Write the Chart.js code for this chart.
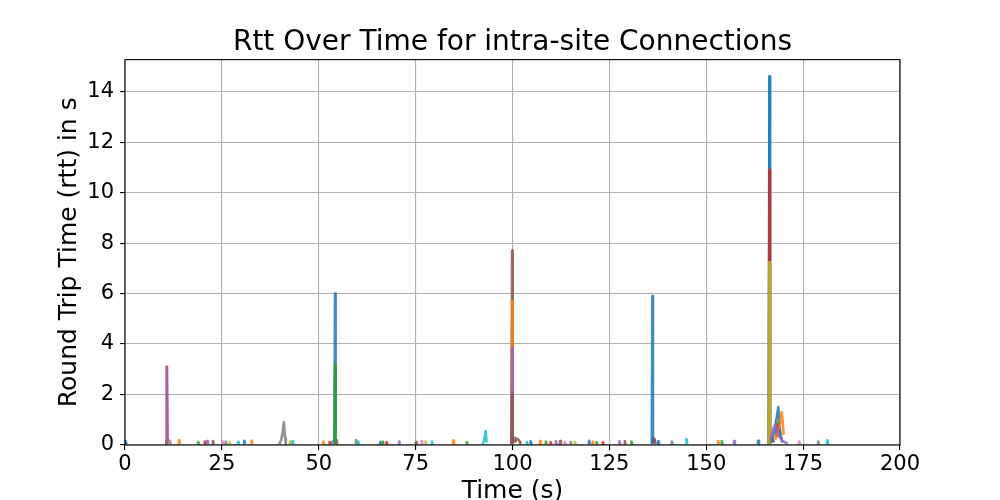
<!DOCTYPE html>
<html>
<head>
<meta charset="utf-8">
<script src="https://cdn.jsdelivr.net/npm/chart.js@4/dist/chart.umd.min.js"></script>
<style>
  html, body { margin: 0; padding: 0; background: #fff; }
  #wrap { width: 1000px; height: 500px; }
</style>
</head>
<body>
<div id="wrap"><canvas id="rtt" width="1000" height="500"></canvas></div>
<script>
// tick labels
const xTicks = [0, 25, 50, 75, 100, 125, 150, 175, 200];
const yTicks = [0, 2, 4, 6, 8, 10, 12, 14];

// matplotlib tab10
const TAB = {
  blue: '#1f77b4', orange: '#ff7f0e', green: '#2ca02c', red: '#d62728', purple: '#9467bd',
  brown: '#8c564b', pink: '#e377c2', gray: '#7f7f7f', olive: '#bcbd22', cyan: '#17becf',
};

// small bursts near zero, [time s, rtt s], null = new connection
const blueSmall = [[0.1,0.02],[0.2,0.15],[0.4,0.04],null,[30.7,0.02],[30.8,0.17],[31.0,0.04],null,[65.8,0.02],[65.9,0.12],[66.1,0.03],null,
  [104.6,0.02],[104.7,0.15],[104.9,0.04],null,[119.7,0.02],[119.8,0.17],[120.0,0.04],null,[137.5,0.02],[137.6,0.15],[137.8,0.04],null,[163.3,0.02],[163.4,0.17],[163.6,0.04]];
const orangeSmall = [[13.9,0.02],[14.0,0.2],[14.2,0.05],null,[32.6,0.02],[32.7,0.18],[32.9,0.04],null,[51.1,0.02],[51.2,0.14],[51.4,0.04],null,
  [84.6,0.02],[84.7,0.18],[84.9,0.04],null,[107.0,0.02],[107.1,0.16],[107.3,0.04],null,[120.6,0.02],[120.7,0.14],[120.9,0.04],null,[153.0,0.02],[153.1,0.16],[153.3,0.04]];
const greenSmall = [[18.8,0.02],[18.9,0.12],[19.1,0.03],null,[66.4,0.02],[66.5,0.14],[66.7,0.03],null,[88.1,0.02],[88.2,0.12],[88.4,0.03],null,
  [108.5,0.02],[108.6,0.14],[108.8,0.03],null,[121.6,0.02],[121.7,0.12],[121.9,0.03],null,[130.6,0.02],[130.7,0.14],[130.9,0.03],null,[153.9,0.02],[154.0,0.16],[154.2,0.03]];
const redSmall = [[20.5,0.02],[20.6,0.14],[20.8,0.03],null,[52.7,0.02],[52.8,0.12],[53.0,0.03],null,[67.4,0.02],[67.5,0.12],[67.7,0.03],null,
  [109.7,0.02],[109.8,0.12],[110.0,0.03],null,[123.2,0.02],[123.3,0.12],[123.5,0.03],null,[136.4,0.05],[136.7,0.22],[136.9,0.05]];
const purpleSmall = [[11.5,0.02],[11.6,0.16],[11.8,0.04],null,[21.1,0.02],[21.2,0.16],[21.4,0.04],null,[53.4,0.02],[53.5,0.14],[53.7,0.04],null,
  [70.7,0.02],[70.8,0.14],[71.0,0.04],null,[111.1,0.02],[111.2,0.16],[111.4,0.04],null,[127.5,0.02],[127.6,0.16],[127.8,0.04],null,[157.1,0.02],[157.2,0.16],[157.4,0.04]];
const brownSmall = [[10.6,0.02],[10.7,0.16],[10.9,0.04],null,[22.6,0.02],[22.7,0.16],[22.9,0.04],null,[54.5,0.02],[54.6,0.2],[54.8,0.05],null,
  [75.0,0.02],[75.1,0.12],[75.3,0.03],null,[112.2,0.02],[112.3,0.16],[112.5,0.04],null,[128.9,0.02],[129.0,0.16],[129.2,0.04],null,[136.1,0.05],[136.4,0.28],[136.7,0.1]];
const pinkSmall = [[25.1,0.02],[25.2,0.14],[25.4,0.03],null,[76.5,0.02],[76.6,0.16],[76.8,0.04],null,[113.4,0.02],[113.5,0.12],[113.7,0.03],null,[173.9,0.02],[174.0,0.14],[174.2,0.03]];
const graySmall = [[25.9,0.02],[26.0,0.14],[26.2,0.03],null,[39.8,0.02],[40.3,0.2],[40.7,0.5],[41.0,0.9],[41.3,0.3],[41.5,0.05],null,
  [59.5,0.02],[59.6,0.2],[59.8,0.05],null,[100.1,0.05],[100.5,0.3],[100.9,0.15],null,[114.9,0.02],[115.0,0.12],[115.2,0.03],null,
  [141.0,0.02],[141.1,0.14],[141.3,0.03],null,[178.8,0.02],[178.9,0.14],[179.1,0.03]];
const oliveSmall = [[11.1,0.02],[11.2,0.2],[11.4,0.05],null,[26.9,0.02],[27.0,0.12],[27.2,0.03],null,[42.5,0.02],[42.6,0.14],[42.8,0.03],null,
  [77.5,0.02],[77.6,0.14],[77.8,0.03],null,[101.8,0.02],[101.9,0.12],[102.1,0.03],null,[116.0,0.02],[116.1,0.12],[116.3,0.03]];
const cyanSmall = [[29.1,0.02],[29.2,0.12],[29.4,0.03],null,[43.2,0.02],[43.3,0.16],[43.5,0.04],null,[60.1,0.02],[60.2,0.14],[60.4,0.03],null,
  [79.1,0.02],[79.2,0.14],[79.4,0.03],null,[92.3,0.02],[92.7,0.2],[93.1,0.55],[93.3,0.1],null,[103.6,0.02],[103.7,0.12],[103.9,0.03],null,
  [144.8,0.02],[144.9,0.24],[145.1,0.05],null,[181.1,0.02],[181.2,0.18],[181.4,0.04]];

// post-100 s brown tail and the 167-170 s cluster
const brownTail = [[100.6,0.1],[101.1,0.25],[101.6,0.2],[102.2,0.05],null,[166.5,0.05],[167.0,0.3],[167.5,0.1]];
const blueCluster = [[166.8,0.1],[167.5,0.5],[168.3,1.2],[168.6,1.5],[169.0,0.6],[169.6,0.1]];
const greenCluster = [[168.2,0.4],[168.6,0.9],[169.0,0.3]];
const redCluster = [[168.0,0.3],[168.5,0.8],[168.8,0.5]];
const orangeCluster = [[167.8,0.2],[168.8,0.7],[169.5,1.3],[170.0,0.4]];
const purpleCluster = [[166.6,0.2],[167.2,0.6],[167.8,0.8],[168.1,0.5],[168.4,0.7],[168.7,0.4],[169.0,0.3],[169.8,0.15],[170.5,0.1],[171.0,0.05]];

// spikes
const spike11Red = [[10.65,0.05],[10.8,3.1],[10.95,0.1]];
const spike11Purple = [[10.65,0.05],[10.8,3.1],[10.95,0.1]];
const spike54Blue = [[54.05,0.05],[54.2,6.0],[54.35,0.1]];
const spike54Green = [[54.05,0.05],[54.2,3.2],[54.35,0.1]];
const spike100Brown = [[99.75,0.05],[99.9,7.7],[100.05,0.1]];
const spike100Orange = [[99.75,0.05],[99.9,5.7],[100.05,0.1]];
const spike100Purple = [[99.75,0.05],[99.9,3.85],[100.05,0.1]];
const spike100Brown2 = [[99.75,0.05],[99.9,2.0],[100.05,0.1]];
const spike136Blue = [[135.95,0.05],[136.1,5.9],[136.25,0.1]];
const spike166Cyan = [[166.15,0.05],[166.3,14.6],[166.45,0.1]];
const spike166Blue = [[166.15,0.05],[166.3,14.6],[166.45,0.1]];
const spike166Red = [[166.15,0.05],[166.3,10.9],[166.45,0.1]];
const spike166Olive = [[166.15,0.05],[166.3,7.25],[166.45,0.1]];

// listed in drawing order: later entries end up on top
const SERIES = [
  [blueSmall, 'blue'], [orangeSmall, 'orange'], [greenSmall, 'green'], [redSmall, 'red'],
  [purpleSmall, 'purple'], [brownSmall, 'brown'], [pinkSmall, 'pink'], [graySmall, 'gray'],
  [oliveSmall, 'olive'], [cyanSmall, 'cyan'],
  [spike11Red, 'red'], [spike11Purple, 'purple'],
  [spike54Blue, 'blue'], [spike54Green, 'green'],
  [spike100Brown, 'brown'], [spike100Orange, 'orange'], [spike100Purple, 'purple'], [spike100Brown2, 'brown'],
  [brownTail, 'brown'],
  [spike136Blue, 'blue'],
  [spike166Cyan, 'cyan'], [spike166Blue, 'blue'], [spike166Red, 'red'], [spike166Olive, 'olive'],
  [blueCluster, 'blue'], [greenCluster, 'green'], [redCluster, 'red'], [orangeCluster, 'orange'], [purpleCluster, 'purple'],
];

function toPoints(pairs) {
  let lastX = 0;
  return pairs.map((p) => {
    if (!p) return { x: lastX, y: null };
    lastX = p[0];
    return { x: p[0], y: p[1] };
  });
}

const withAlpha = (hex, a) => hex + Math.round(a * 255).toString(16).padStart(2, '0');

// Chart.js paints dataset 0 last, so higher "order" = painted earlier
const datasets = SERIES.map(([pairs, c], i) => ({
  data: toPoints(pairs),
  order: SERIES.length - i,
  borderColor: withAlpha(TAB[c], 0.85),
  borderWidth: 2.6,
  borderJoinStyle: 'round',
  borderCapStyle: 'butt',
  pointRadius: 0,
  spanGaps: false,
  tension: 0,
}));

// matplotlib style frame on all four sides
const frame = {
  id: 'frame',
  afterDatasetsDraw(chart) {
    const { ctx, chartArea: a } = chart;
    ctx.save();
    ctx.strokeStyle = '#000';
    ctx.lineWidth = 1.1;
    ctx.strokeRect(a.left, a.top, a.right - a.left, a.bottom - a.top);
    ctx.restore();
  },
};

const FONT = "'DejaVu Sans', sans-serif";

new Chart(document.getElementById('rtt'), {
  type: 'line',
  data: { datasets },
  plugins: [frame],
  options: {
    responsive: false,
    animation: false,
    layout: { padding: { left: 0, right: 100, top: 0, bottom: 0 } },
    plugins: {
      legend: { display: false },
      tooltip: { enabled: false },
      title: {
        display: true,
        fullSize: false,
        text: 'Rtt Over Time for intra-site Connections',
        color: '#000',
        font: { family: FONT, size: 28, weight: 'normal', lineHeight: 1.2 },
        padding: { top: 26, bottom: 0 },
      },
    },
    scales: {
      x: {
        type: 'linear',
        min: 0, max: 200,
        afterFit: (s) => { s.height = 55; },
        afterBuildTicks: (s) => { s.ticks = xTicks.map((v) => ({ value: v })); },
        ticks: { color: '#000', font: { family: FONT, size: 21 }, padding: 2, maxRotation: 0, autoSkip: false },
        grid: { color: '#b0b0b0', lineWidth: 1.1, tickColor: '#000', tickLength: 5, tickWidth: 1.1 },
        border: { display: false },
        title: {
          display: true, text: 'Time (s)', color: '#000',
          font: { family: FONT, size: 25, lineHeight: 1.2 },
          padding: { top: 0, bottom: -6 },
        },
      },
      y: {
        type: 'linear',
        min: 0, max: 15.27,
        afterFit: (s) => { s.width = 125; },
        afterBuildTicks: (s) => { s.ticks = yTicks.map((v) => ({ value: v })); },
        ticks: { color: '#000', font: { family: FONT, size: 21 }, padding: 6, autoSkip: false },
        grid: { color: '#b0b0b0', lineWidth: 1.1, tickColor: '#000', tickLength: 5, tickWidth: 1.1 },
        border: { display: false },
        title: {
          display: true, text: 'Round Trip Time (rtt) in s', color: '#000',
          font: { family: FONT, size: 25, lineHeight: 1.2 },
          padding: { top: 54, bottom: 0 },
        },
      },
    },
  },
});
</script>
</body>
</html>
